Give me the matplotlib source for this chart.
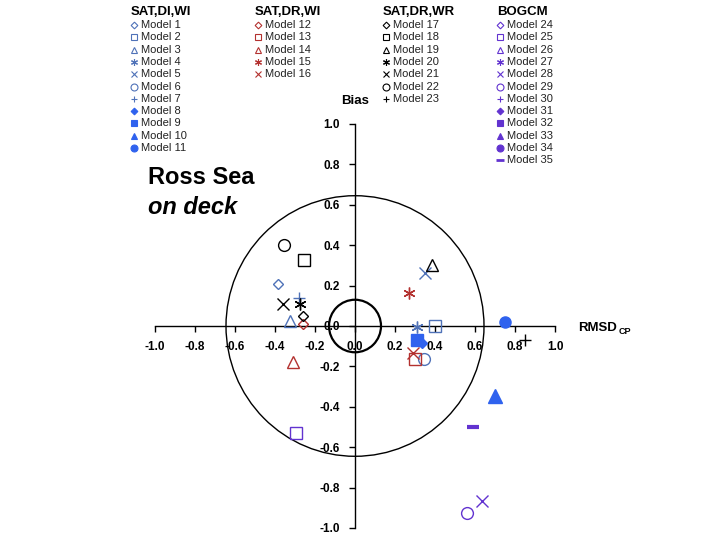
import numpy as np
import matplotlib
matplotlib.use("Agg")
import matplotlib.pyplot as plt
from matplotlib.patches import Circle

plt.rcParams['font.family'] = ['Liberation Sans', 'DejaVu Sans']

# ---- data (nan = not on the plotted range) ----
group_names = ["SAT,DI,WI", "SAT,DR,WI", "SAT,DR,WR", "BOGCM"]
group_first = [1, 12, 17, 24]
group_last = [11, 16, 23, 35]

model_num = list(range(1, 36))
rmsd = [-0.385, 0.40, -0.325, 0.31, 0.35, 0.345, -0.28, 0.335, 0.31, 0.70, 0.75,
        -0.26, 0.30, -0.31, 0.27, 0.29,
        -0.26, -0.255, 0.385, -0.275, -0.36, -0.355, 0.85,
        np.nan, -0.295, np.nan, np.nan, 0.635, 0.56, np.nan, np.nan, np.nan, np.nan, np.nan, 0.59]
bias = [0.21, 0.0, 0.025, -0.005, 0.26, -0.165, 0.14, -0.085, -0.07, -0.345, 0.02,
        0.01, -0.165, -0.18, 0.165, -0.135,
        0.05, 0.325, 0.30, 0.11, 0.11, 0.40, -0.07,
        np.nan, -0.53, np.nan, np.nan, -0.865, -0.925, np.nan, np.nan, np.nan, np.nan, np.nan, -0.50]

ticks = [-1.0, -0.8, -0.6, -0.4, -0.2, 0.0, 0.2, 0.4, 0.6, 0.8, 1.0]
outer_r = 0.645
inner_r = 0.13

# ---- styles ----
AST = (6, 2, 0)
shape = {1: 'D', 2: 's', 3: '^', 4: AST, 5: 'x', 6: 'o', 7: '+', 8: 'D', 9: 's', 10: '^', 11: 'o',
         12: 'D', 13: 's', 14: '^', 15: AST, 16: 'x',
         17: 'D', 18: 's', 19: '^', 20: AST, 21: 'x', 22: 'o', 23: '+',
         24: 'D', 25: 's', 26: '^', 27: AST, 28: 'x', 29: 'o', 30: '+', 31: 'D', 32: 's',
         33: '^', 34: 'o', 35: '_'}
filled = {8, 9, 10, 11, 31, 32, 33, 34, 35}
size = {'D': 5.5, 's': 8, '^': 8.5, 'x': 8, 'o': 8.5, '+': 9, '_': 9, AST: 8.5}


def color_of(m):
    if m <= 7:
        return '#4f72b8'
    if m <= 11:
        return '#2f62ee'
    if m <= 16:
        return '#b3312f'
    if m <= 23:
        return 'black'
    return '#6233d0'


fig = plt.figure(figsize=(7.2, 5.4), dpi=100)
ax = fig.add_axes([155 / 720, 12 / 540, 400 / 720, 404 / 540])
ax.set_xlim(-1, 1)
ax.set_ylim(-1, 1)
ax.patch.set_alpha(0)

for s in ['top', 'right']:
    ax.spines[s].set_visible(False)
ax.spines['left'].set_position('zero')
ax.spines['bottom'].set_position('zero')
ax.spines['left'].set_linewidth(1.0)
ax.spines['bottom'].set_linewidth(1.0)
ax.set_xticks(ticks)
ax.set_yticks(ticks)
ax.set_xticklabels(['%.1f' % t for t in ticks])
ax.set_yticklabels(['%.1f' % t for t in ticks])
ax.tick_params(axis='x', direction='out', length=4, width=1, pad=7, labelsize=8.5)
ax.tick_params(axis='y', direction='out', length=4, width=1, pad=7, labelsize=8.5)
for lab in ax.get_xticklabels() + ax.get_yticklabels():
    lab.set_fontweight('bold')

ax.add_patch(Circle((0, 0), outer_r, fill=False, ec='black', lw=1.0, zorder=1))
ax.add_patch(Circle((0, 0), inner_r, fill=False, ec='black', lw=1.6, zorder=1))

for i, m in enumerate(model_num):
    if np.isnan(rmsd[i]):
        continue
    mk = shape[m]
    c = color_of(m)
    ms = size[mk]
    if m == 10:
        ms = 9.5
    if m == 11:
        ms = 8
    if m == 35:
        ax.plot(rmsd[i], bias[i], marker='_', ms=ms, mew=3, color=c, ls='none', zorder=3)
        continue
    ax.plot(rmsd[i], bias[i], marker=mk, ms=ms, ls='none', zorder=3,
            mfc=c if m in filled else 'none', mec=c, mew=1.0)

# ---- overlay in pixel coordinates for the legends and labels ----
ov = fig.add_axes([0, 0, 1, 1])
ov.set_xlim(0, 720)
ov.set_ylim(540, 0)
ov.axis('off')
ov.patch.set_alpha(0)

col_x = [131, 255, 383, 497]
for g, name in enumerate(group_names):
    ov.text(col_x[g], 12, name, fontsize=9.5, fontweight='bold', va='center', ha='left')
    for k, m in enumerate(range(group_first[g], group_last[g] + 1)):
        y = 25 + k * 12.3
        mk = shape[m]
        c = color_of(m)
        mx = col_x[g] + 3
        if m == 35:
            ov.plot(mx, y, marker='_', ms=5.5, mew=2, color=c, ls='none')
        else:
            lms = 3.4 if mk == 'D' else 5
            ov.plot(mx, y, marker=mk, ms=lms, ls='none', mew=0.8,
                    mfc=c if m in filled else 'none', mec=c)
        ov.text(col_x[g] + 10, y, "Model %d" % m, fontsize=8, va='center', ha='left',
                color='#222222')

ov.text(355, 101, "Bias", fontsize=9.5, fontweight='bold', ha='center', va='center')
ov.text(578, 328, "RMSD", fontsize=9.5, fontweight='bold', ha='left', va='center')
ov.text(619, 331, "CP", fontsize=6.5, fontweight='bold', ha='left', va='center')
ov.text(148, 178, "Ross Sea", fontsize=17, fontweight='bold', ha='left', va='center')
ov.text(148, 207, "on deck", fontsize=17, fontweight='bold', style='italic', ha='left', va='center')

fig.savefig("out.png", dpi=100)
